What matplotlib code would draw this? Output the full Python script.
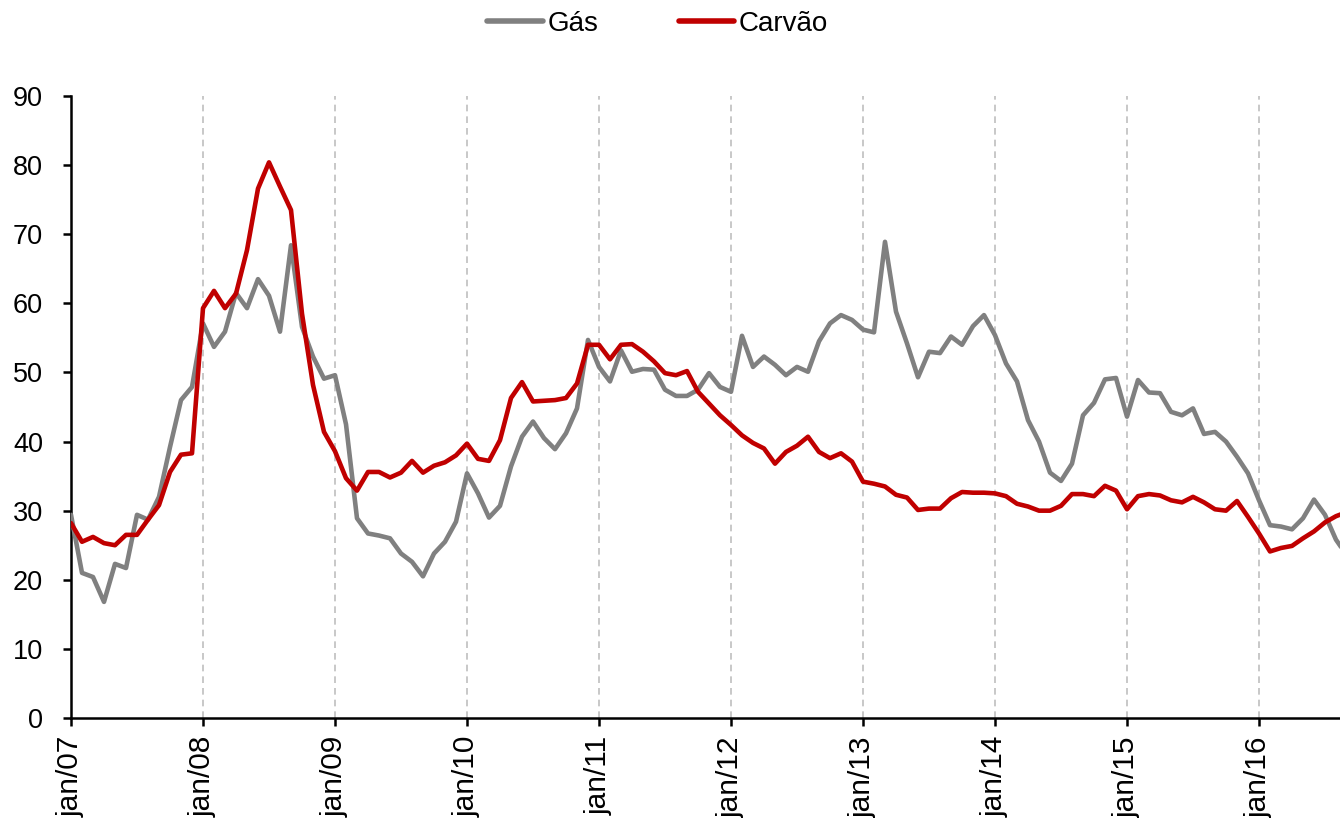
import matplotlib
matplotlib.use("Agg")
import matplotlib.pyplot as plt
import numpy as np

# ---- data (monthly, starting jan/2007) ----
gas = [29.4, 21.0, 20.4, 16.8, 22.3, 21.7, 29.4, 28.7, 32.0, 39.2, 46.0, 47.9,
       57.1, 53.7, 55.9, 61.5, 59.3, 63.5, 61.1, 55.9, 68.4, 56.6, 52.3, 49.1,
       49.6, 42.5, 28.9, 26.7, 26.4, 26.0, 23.8, 22.6, 20.5, 23.8, 25.5, 28.4,
       35.4, 32.5, 29.0, 30.7, 36.4, 40.7, 42.9, 40.5, 38.9, 41.2, 44.8, 54.7,
       50.8, 48.7, 53.2, 50.1, 50.5, 50.4, 47.5, 46.6, 46.6, 47.5, 49.9, 47.9,
       47.2, 55.3, 50.8, 52.3, 51.1, 49.6, 50.8, 50.1, 54.5, 57.1, 58.3, 57.6,
       56.2, 55.8, 68.9, 58.8, 54.2, 49.3, 53.0, 52.8, 55.2, 54.0, 56.7, 58.3,
       55.4, 51.3, 48.7, 43.1, 40.0, 35.5, 34.3, 36.8, 43.8, 45.6, 49.0, 49.2,
       43.6, 48.9, 47.1, 47.0, 44.3, 43.8, 44.8, 41.1, 41.4, 40.0, 37.8, 35.4,
       31.5, 27.9, 27.7, 27.3, 28.9, 31.6, 29.4, 25.8, 23.5]

carvao = [28.2, 25.5, 26.2, 25.3, 25.0, 26.5, 26.5, 28.7, 30.8, 35.6, 38.1, 38.3,
          59.3, 61.8, 59.3, 61.4, 67.7, 76.6, 80.4, 76.9, 73.5, 58.5, 48.2, 41.4,
          38.6, 34.7, 32.9, 35.6, 35.6, 34.8, 35.5, 37.2, 35.5, 36.5, 37.0, 38.0,
          39.7, 37.5, 37.2, 40.2, 46.3, 48.6, 45.8, 45.9, 46.0, 46.3, 48.4, 54.0,
          54.0, 51.9, 54.0, 54.1, 53.0, 51.6, 49.9, 49.6, 50.2, 47.2, 45.5, 43.8,
          42.4, 40.9, 39.8, 39.0, 36.8, 38.5, 39.4, 40.7, 38.5, 37.6, 38.3, 37.1,
          34.2, 33.9, 33.5, 32.3, 31.9, 30.1, 30.3, 30.3, 31.8, 32.7, 32.6, 32.6,
          32.5, 32.1, 31.0, 30.6, 30.0, 30.0, 30.7, 32.4, 32.4, 32.1, 33.6, 32.9,
          30.2, 32.1, 32.4, 32.2, 31.5, 31.2, 32.0, 31.2, 30.2, 30.0, 31.4, 29.1,
          26.7, 24.1, 24.6, 24.9, 26.0, 27.0, 28.3, 29.2, 29.8]

tick_labels = ["jan/07", "jan/08", "jan/09", "jan/10", "jan/11",
               "jan/12", "jan/13", "jan/14", "jan/15", "jan/16"]
series_names = ["Gás", "Carvão"]

months = np.arange(len(gas))

W, H = 1340, 818
fig = plt.figure(figsize=(W / 100, H / 100), dpi=100)
ax = fig.add_axes([71 / W, 1 - 718 / H, 1 - 71 / W, (718 - 96) / H])

ax.plot(months, gas, color="#808080", lw=3.3, label=series_names[0],
        solid_joinstyle="round", solid_capstyle="round", zorder=3)
ax.plot(months, carvao, color="#C00000", lw=3.3, label=series_names[1],
        solid_joinstyle="round", solid_capstyle="round", zorder=4)

fam = ["Liberation Sans", "DejaVu Sans"]
tick_pos = np.arange(len(tick_labels)) * 12
ax.set_xticks(tick_pos)
ax.set_xticklabels(tick_labels, rotation=90, fontsize=21.5, family=fam)
ax.set_xlim(0, (W - 71) / 11.0)
ax.set_ylim(0, 90)
ax.set_yticks(np.arange(0, 91, 10))
for lab in ax.get_yticklabels():
    lab.set_fontsize(19.5)
    lab.set_family(fam)

for p in tick_pos[1:]:
    ax.axvline(p, color="#BFBFBF", lw=1.2, ls=(0, (4, 3)), zorder=1)

for s in ["top", "right"]:
    ax.spines[s].set_visible(False)
for s in ["left", "bottom"]:
    ax.spines[s].set_linewidth(1.8)
    ax.spines[s].set_color("black")
ax.tick_params(axis="both", direction="out", length=6, width=1.8, colors="black")
ax.tick_params(axis="x", pad=7)
ax.tick_params(axis="y", pad=14)

leg = fig.legend(loc="center", bbox_to_anchor=(0.4907, 1 - 24 / H), ncol=2,
                 frameon=False, handlelength=2.0, handletextpad=0.15,
                 columnspacing=2.9,
                 prop={"family": fam, "size": 20})
for h in leg.get_lines():
    h.set_linewidth(4.0)
    h.set_solid_capstyle("round")

fig.savefig("out.png", dpi=100)
